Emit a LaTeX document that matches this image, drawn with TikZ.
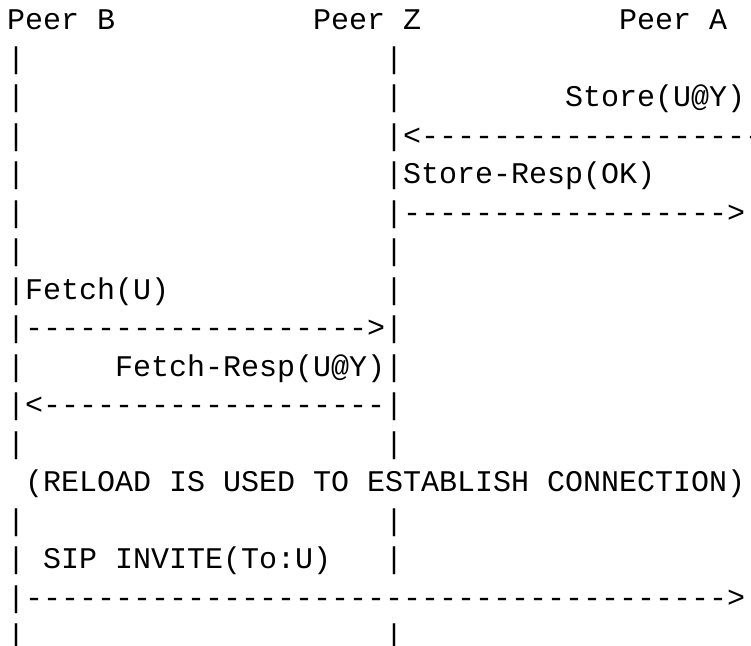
\documentclass[tikz,border=0pt]{standalone}
\usepackage{fontspec}
\setmonofont{Liberation Mono}
\tikzstyle{txt} = [font=\ttfamily\fontsize{30pt}{38.5pt}\selectfont, anchor=base west, inner sep=0pt, outer sep=0pt]
\begin{document}
\begin{tikzpicture}[x=18pt, y=-38.5pt]
    \useasboundingbox (-7pt,-9pt) rectangle (744pt,-654pt);
    % peers
    \node [txt] (peerB) at (0,1) {Peer B};
    \node [txt] (peerZ) at (17,1) {Peer Z};
    \node [txt] (peerA) at (34,1) {Peer A};
    % lifelines of B and Z
    \foreach \r in {2,...,12,14,15,16,17}
        \node [txt] (lifeB\r) at (0,\r) {|};
    \foreach \r in {2,...,12,14,15,17}
        \node [txt] (lifeZ\r) at (21,\r) {|};
    % messages
    \node [txt] (store) at (31,3) {Store(U@Y)};
    \node [txt] (storeln) at (22,4) {<-------------------};
    \node [txt] (storeresp) at (22,5) {Store-Resp(OK)};
    \node [txt] (storerespln) at (22,6) {------------------>};
    \node [txt] (fetch) at (1,8) {Fetch(U)};
    \node [txt] (fetchln) at (1,9) {------------------->};
    \node [txt] (fetchresp) at (6,10) {Fetch-Resp(U@Y)};
    \node [txt] (fetchrespln) at (1,11) {<-------------------};
    \node [txt] (reload) at (1,13) {(RELOAD IS USED TO ESTABLISH CONNECTION)};
    \node [txt] (invite) at (2,15) {SIP INVITE(To:U)};
    \node [txt] (inviteln) at (1,16) {--------------------------------------->};
\end{tikzpicture}
\end{document}
